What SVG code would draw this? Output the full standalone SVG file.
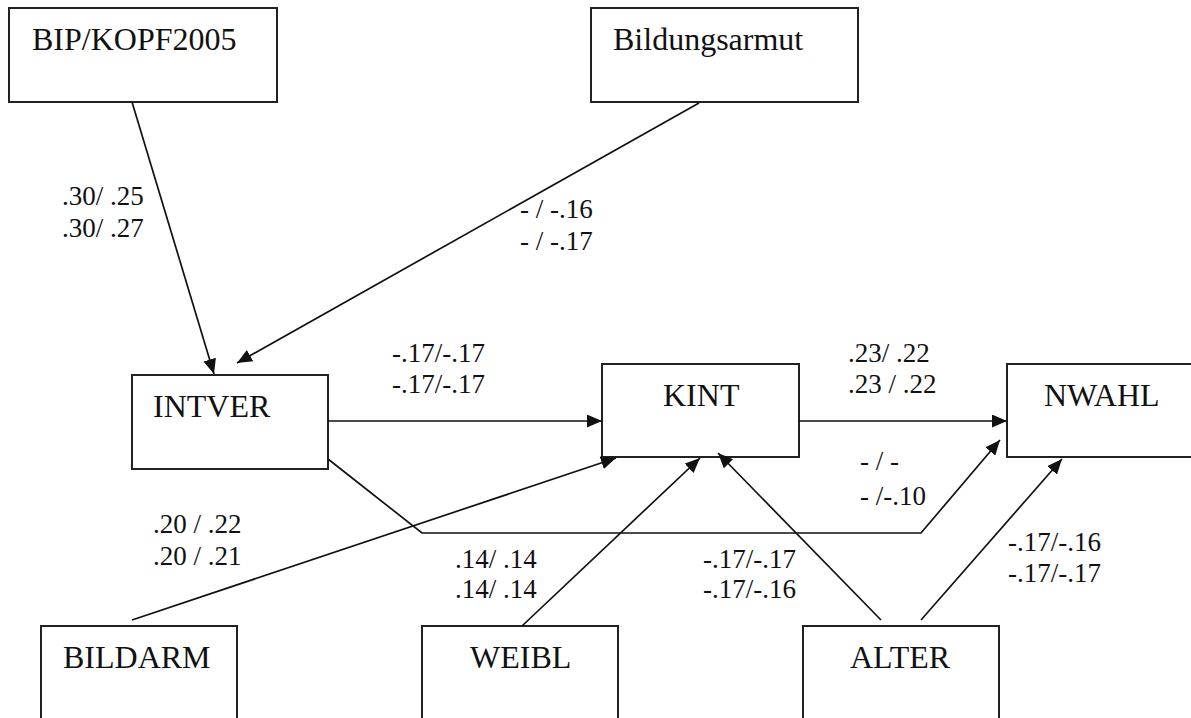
<svg xmlns="http://www.w3.org/2000/svg" width="1191" height="718" viewBox="0 0 1191 718">
<style>
.box{fill:#fff;stroke:#222;stroke-width:2}
.nt{font-family:"Liberation Serif","Times New Roman",serif;font-size:32px;fill:#111}
.lb{font-family:"Liberation Serif","Times New Roman",serif;font-size:27px;fill:#111}
.ln{fill:none;stroke:#111;stroke-width:1.7}
</style>
<defs>
<marker id="ah" markerUnits="userSpaceOnUse" markerWidth="16" markerHeight="13" refX="15" refY="6.5" orient="auto">
<path d="M0,0 L15,6.5 L0,13 Z" fill="#111"/>
</marker>
</defs>
<rect width="1191" height="718" fill="#fff"/>
<g id="BIP"><rect class="box" x="9" y="8" width="268" height="94"/><text class="nt" x="32" y="50">BIP/KOPF2005</text></g>
<g id="Bildungsarmut"><rect class="box" x="591" y="8" width="267" height="94"/><text class="nt" x="613" y="50">Bildungsarmut</text></g>
<g id="INTVER"><rect class="box" x="132" y="375" width="196" height="94"/><text class="nt" x="153" y="417">INTVER</text></g>
<g id="KINT"><rect class="box" x="602" y="364" width="197" height="93"/><text class="nt" x="663" y="406">KINT</text></g>
<g id="NWAHL"><rect class="box" x="1007" y="364" width="197" height="93"/><text class="nt" x="1044" y="406">NWAHL</text></g>
<g id="BILDARM"><rect class="box" x="41" y="626" width="196" height="120"/><text class="nt" x="63" y="668">BILDARM</text></g>
<g id="WEIBL"><rect class="box" x="422" y="626" width="196" height="120"/><text class="nt" x="470" y="668">WEIBL</text></g>
<g id="ALTER"><rect class="box" x="803" y="626" width="196" height="120"/><text class="nt" x="850" y="668">ALTER</text></g>
<g id="connectors">
<line class="ln" x1="132" y1="102" x2="214" y2="374" marker-end="url(#ah)"/>
<line class="ln" x1="699" y1="103" x2="237" y2="363" marker-end="url(#ah)"/>
<line class="ln" x1="328" y1="421" x2="602" y2="421" marker-end="url(#ah)"/>
<line class="ln" x1="799" y1="421" x2="1007" y2="421" marker-end="url(#ah)"/>
<polyline class="ln" points="328,459 422,533 921,533 1000,440" marker-end="url(#ah)"/>
<line class="ln" x1="132" y1="620" x2="616" y2="458" marker-end="url(#ah)"/>
<line class="ln" x1="522" y1="626" x2="700" y2="458" marker-end="url(#ah)"/>
<line class="ln" x1="881" y1="620" x2="718" y2="453" marker-end="url(#ah)"/>
<line class="ln" x1="921" y1="620" x2="1062" y2="459" marker-end="url(#ah)"/>
</g>
<g id="labels">
<text class="lb" x="62" y="205">.30/ .25</text>
<text class="lb" x="62" y="237">.30/ .27</text>
<text class="lb" x="520" y="218">- / -.16</text>
<text class="lb" x="520" y="250">- / -.17</text>
<text class="lb" x="392" y="362">-.17/-.17</text>
<text class="lb" x="392" y="393">-.17/-.17</text>
<text class="lb" x="848" y="362">.23/ .22</text>
<text class="lb" x="848" y="393">.23 / .22</text>
<text class="lb" x="860" y="470">- / -</text>
<text class="lb" x="860" y="505">- /-.10</text>
<text class="lb" x="153" y="533">.20 / .22</text>
<text class="lb" x="153" y="565">.20 / .21</text>
<text class="lb" x="455" y="568">.14/ .14</text>
<text class="lb" x="455" y="598">.14/ .14</text>
<text class="lb" x="703" y="568">-.17/-.17</text>
<text class="lb" x="703" y="598">-.17/-.16</text>
<text class="lb" x="1008" y="551">-.17/-.16</text>
<text class="lb" x="1008" y="582">-.17/-.17</text>
</g>
</svg>
